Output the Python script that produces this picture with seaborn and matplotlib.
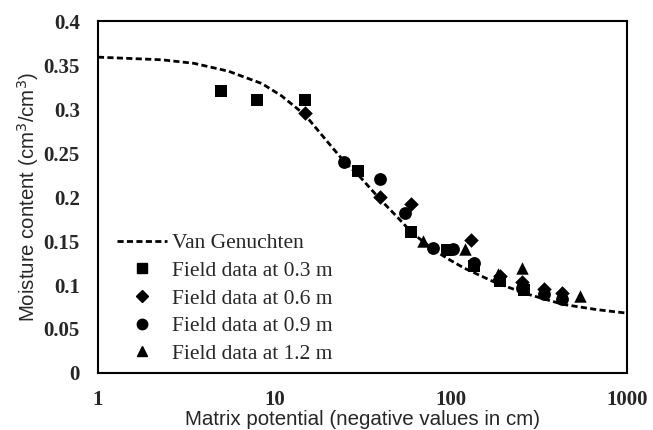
import matplotlib
matplotlib.use("Agg")
import matplotlib.pyplot as plt
import seaborn as sns
import pandas as pd
from matplotlib.lines import Line2D

# Van Genuchten curve
vg_x = [1, 2.3, 3.5, 5.5, 8.5, 11, 15, 20, 25, 30, 40, 50, 60, 80, 100, 120, 183, 280, 434, 676, 1000]
vg_y = [0.359, 0.356, 0.352, 0.343, 0.329, 0.315, 0.293, 0.263, 0.240, 0.225, 0.197, 0.177, 0.160,
        0.140, 0.128, 0.119, 0.102, 0.089, 0.078, 0.072, 0.068]

# Field data
d03_x = [5, 8, 15, 30, 60, 95, 135, 190, 260]
d03_y = [0.320, 0.310, 0.310, 0.230, 0.160, 0.140, 0.122, 0.105, 0.094]
d06_x = [15, 40, 60, 130, 190, 255, 340, 430]
d06_y = [0.295, 0.200, 0.192, 0.151, 0.110, 0.103, 0.096, 0.091]
d09_x = [25, 40, 55, 80, 103, 135, 255, 340, 430]
d09_y = [0.240, 0.221, 0.182, 0.142, 0.141, 0.125, 0.097, 0.090, 0.084]
d12_x = [70, 120, 185, 255, 540]
d12_y = [0.150, 0.141, 0.113, 0.119, 0.087]

labels = ["Field data at 0.3 m", "Field data at 0.6 m", "Field data at 0.9 m", "Field data at 1.2 m"]
markers = {labels[0]: "s", labels[1]: "D", labels[2]: "o", labels[3]: "^"}
sizes = {labels[0]: 80, labels[1]: 55, labels[2]: 85, labels[3]: 80}

rows = []
for lab, xs, ys in zip(labels, [d03_x, d06_x, d09_x, d12_x], [d03_y, d06_y, d09_y, d12_y]):
    for x, y in zip(xs, ys):
        rows.append({"x": x, "y": y, "series": lab})
df = pd.DataFrame(rows)
vg = pd.DataFrame({"x": vg_x, "y": vg_y})

sns.set_style("white")
fig = plt.figure(figsize=(6.53, 4.3), dpi=100)
ax = fig.add_axes([0.150, 0.1326, 0.810, 0.8184])

sns.lineplot(data=vg, x="x", y="y", ax=ax, color="black", linewidth=2.0,
             linestyle=(0, (2.2, 1.2)), legend=False, sort=False)
for lab in labels:
    sub = df[df["series"] == lab]
    sns.scatterplot(data=sub, x="x", y="y", ax=ax, color="black", marker=markers[lab],
                    s=sizes[lab], edgecolor="black", linewidth=0, legend=False, zorder=3)

ax.set_xscale("log")
ax.set_xlim(1, 1000)
ax.set_ylim(0, 0.4)
ax.set_xticks([1, 10, 100, 1000])
ax.set_xticklabels(["1", "10", "100", "1000"])
ax.set_yticks([0, 0.05, 0.1, 0.15, 0.2, 0.25, 0.3, 0.35, 0.4])
ax.set_yticklabels(["0", "0.05", "0.1", "0.15", "0.2", "0.25", "0.3", "0.35", "0.4"])
ax.minorticks_off()
ax.tick_params(axis="both", length=0)
ax.tick_params(axis="y", pad=13)
ax.tick_params(axis="x", pad=12)
for t in ax.get_xticklabels() + ax.get_yticklabels():
    t.set_fontfamily("Liberation Serif")
    t.set_fontweight("bold")
    t.set_fontsize(15)

for s in ax.spines.values():
    s.set_color("black")
    s.set_linewidth(1.5)

ax.set_xlabel("Matrix potential (negative values in cm)", fontfamily="Liberation Sans",
              fontsize=14.8, labelpad=0)
ax.set_ylabel("Moisture content (cm$^3$/cm$^3$)", fontfamily="Liberation Sans",
              fontsize=14.7, labelpad=2)

handles = [Line2D([0], [0], color="black", linewidth=2.0, linestyle=(0, (2.2, 1.2)))]
for lab in labels:
    handles.append(Line2D([0], [0], color="black", marker=markers[lab], linestyle="none",
                          markersize=7.5 if markers[lab] != "D" else 6))
leg = ax.legend(handles, ["Van Genuchten"] + labels, loc="lower left",
                bbox_to_anchor=(0.0, -0.029), frameon=False,
                prop={"family": "Liberation Serif", "size": 15.5},
                handlelength=2.3, handletextpad=0.25, labelspacing=0.35)

fig.savefig("out.png", dpi=100)
